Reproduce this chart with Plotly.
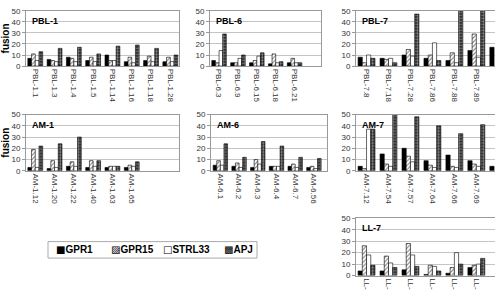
import plotly.graph_objects as go

W, H = 495, 298

# ---------------- data ----------------
series_names = ["GPR1", "GPR15", "STRL33", "APJ"]

pbl1_labels = ["PBL-1.1", "PBL-1.3", "PBL-1.4", "PBL-1.5", "PBL-1.14", "PBL-1.16", "PBL-1.18", "PBL-1.28"]
pbl1_gpr1   = [7, 6, 8, 5, 10, 4, 5, 4]
pbl1_gpr15  = [11, 5, 7, 8, 5, 8, 9, 8]
pbl1_strl33 = [5, 4, 4, 4, 5, 3, 4, 4]
pbl1_apj    = [13, 16, 17, 11, 18, 19, 16, 10]

pbl6_labels = ["PBL-6.3", "PBL-6.9", "PBL-6.15", "PBL-6.18", "PBL-6.21"]
pbl6_gpr1   = [5, 3, 3, 2, 3]
pbl6_gpr15  = [3, 3, 5, 11, 7]
pbl6_strl33 = [14, 7, 9, 3, 3]
pbl6_apj    = [29, 10, 12, 4, 3]

pbl7_labels = ["PBL-7.8", "PBL-7.18", "PBL-7.28", "PBL-7.86", "PBL-7.88", "PBL-7.89", ""]
pbl7_gpr1   = [8, 7, 10, 7, 5, 14, 17]
pbl7_gpr15  = [3, 6, 15, 10, 12, 29, None]
pbl7_strl33 = [10, 7, 9, 21, 3, 8, None]
pbl7_apj    = [7, 3, 47, 5, 56, 56, None]

am1_labels = ["AM-1.12", "AM-1.20", "AM-1.22", "AM-1.40", "AM-1.63", "AM-1.65"]
am1_gpr1   = [3, 2, 4, 3, 3, 3]
am1_gpr15  = [19, 9, 8, 9, 4, 5]
am1_strl33 = [3, 3, 4, 4, 4, 4]
am1_apj    = [22, 24, 30, 9, 4, 8]

am6_labels = ["AM-6.1", "AM-6.2", "AM-6.3", "AM-6.4", "AM-6.7", "AM-6.56"]
am6_gpr1   = [5, 4, 3, 4, 4, 3]
am6_gpr15  = [9, 7, 10, 4, 6, 4]
am6_strl33 = [5, 3, 6, 4, 3, 2]
am6_apj    = [24, 12, 26, 22, 12, 11]

am7_labels = ["AM-7.12", "AM-7.54", "AM-7.57", "AM-7.64", "AM-7.66", "AM-7.69", ""]
am7_gpr1   = [4, 15, 20, 9, 14, 9, 4]
am7_gpr15  = [2, 6, 13, 5, 4, 6, None]
am7_strl33 = [37, 4, 8, 3, 3, 4, None]
am7_apj    = [37, 51, 48, 40, 33, 41, None]

ll7_labels = ["LL-", "LL-", "LL-", "LL-", "LL-", "LL-"]
ll7_gpr1   = [4, 4, 5, 1, 2, 7]
ll7_gpr15  = [26, 17, 28, 9, 7, 9]
ll7_strl33 = [18, 11, 18, 8, 20, 10]
ll7_apj    = [9, 7, 8, 4, 10, 15]

y_ticks = [0, 10, 20, 30, 40, 50]

# ---------------- layout geometry (pixels) ----------------
def px_x(a, b):
    return [a / W, b / W]

def px_y(top, bottom):
    return [1 - bottom / H, 1 - top / H]

panels = [
    ("PBL-1", pbl1_labels, [pbl1_gpr1, pbl1_gpr15, pbl1_strl33, pbl1_apj], (26, 179), (7, 64), [-0.48, 7.45], True, False),
    ("PBL-6", pbl6_labels, [pbl6_gpr1, pbl6_gpr15, pbl6_strl33, pbl6_apj], (210, 321), (7, 64), [-0.48, 5.4], False, False),
    ("PBL-7", pbl7_labels, [pbl7_gpr1, pbl7_gpr15, pbl7_strl33, pbl7_apj], (356, 495), (7, 64), [-0.48, 5.85], False, True),
    ("AM-1", am1_labels, [am1_gpr1, am1_gpr15, am1_strl33, am1_apj], (26, 179), (114, 172), [-0.48, 7.45], True, False),
    ("AM-6", am6_labels, [am6_gpr1, am6_gpr15, am6_strl33, am6_apj], (211, 327), (114, 172), [-0.5, 5.7], False, False),
    ("AM-7", am7_labels, [am7_gpr1, am7_gpr15, am7_strl33, am7_apj], (356, 495), (114, 172), [-0.48, 5.85], False, True),
    ("LL-7", ll7_labels, [ll7_gpr1, ll7_gpr15, ll7_strl33, ll7_apj], (356, 495), (221, 280), [-0.48, 5.85], False, True),
]

styles = [
    dict(color="black", line=dict(color="black", width=0.6)),
    dict(color="white", line=dict(color="black", width=0.6),
         pattern=dict(shape="/", fgcolor="black", bgcolor="white", size=3, solidity=0.35)),
    dict(color="white", line=dict(color="black", width=0.6)),
    dict(color="black", line=dict(color="black", width=0.6),
         pattern=dict(shape=".", fgcolor="white", bgcolor="#111111", size=3, solidity=0.55)),
]

FONT = "Liberation Sans, Arial, sans-serif"
fig = go.Figure()
layout = dict(
    width=W, height=H, margin=dict(l=0, r=0, t=0, b=0),
    paper_bgcolor="white", plot_bgcolor="white",
    showlegend=False, barmode="group", bargap=0.23, bargroupgap=0,
    font=dict(family=FONT, size=8, color="#333333"),
)
annotations = []
shapes = []

for i, (title, labels, series, xd, yd, xr, leftcol, rightcol) in enumerate(panels):
    n = "" if i == 0 else str(i + 1)
    xa, ya = "x" + n, "y" + n
    pos = list(range(len(labels)))
    for s, (name, vals) in enumerate(zip(series_names, series)):
        fig.add_trace(go.Bar(
            x=pos, y=vals, name=name, xaxis=xa, yaxis=ya,
            marker=styles[s], offsetgroup=str(s), hoverinfo="skip",
        ))
    layout["xaxis" + n] = dict(
        domain=px_x(*xd), anchor=ya, range=xr,
        tickmode="array", tickvals=[p for p, l in zip(pos, labels) if l],
        ticktext=[l for l in labels if l], tickangle=90,
        tickfont=dict(size=8, color="#333333"),
        showline=True, linecolor="#999999", linewidth=1, mirror=True,
        showgrid=False, zeroline=False, ticks="", fixedrange=True,
    )
    layout["yaxis" + n] = dict(
        domain=px_y(*yd), anchor=xa, range=[0, 50],
        tickmode="array", tickvals=y_ticks,
        tickfont=dict(size=8, color="#333333"),
        ticks="outside", ticklen=3, tickcolor="#999999",
        showline=True, linecolor="#999999", linewidth=1, mirror=not rightcol,
        showgrid=True, gridcolor="#c4c4c4", gridwidth=1, zeroline=False,
        fixedrange=True,
    )
    if leftcol:
        layout["yaxis" + n]["title"] = dict(
            text="<b>fusion</b>", standoff=3,
            font=dict(size=10, color="black", family=FONT))
    annotations.append(dict(
        text="<b>%s</b>" % title, xref=xa + " domain", yref=ya + " domain",
        x=0, y=1, xanchor="left", yanchor="top", xshift=4, yshift=-3,
        showarrow=False, font=dict(size=9, color="black", family=FONT),
    ))

# legend (real text, glyph swatches)
legend_glyphs = ["\u25A0", "\u25A8", "\u25A1", "\u25A9"]
legend_x_px = [54, 109, 161, 222]
leg_yc = 1 - 253.5 / H
for g, name, lx in zip(legend_glyphs, series_names, legend_x_px):
    annotations.append(dict(
        text="<span style='font-family:DejaVu Sans'>%s</span><b>%s</b>" % (g, name),
        xref="paper", yref="paper", x=lx / W, y=leg_yc,
        xanchor="left", yanchor="middle", showarrow=False,
        font=dict(size=10, color="black", family=FONT),
    ))
shapes.append(dict(type="rect", xref="paper", yref="paper",
                   x0=48 / W, x1=257 / W, y0=1 - 262 / H, y1=1 - 245 / H,
                   line=dict(color="#aaaaaa", width=1), fillcolor="rgba(0,0,0,0)"))

layout["annotations"] = annotations
layout["shapes"] = shapes
fig.update_layout(**layout)
fig.write_html("out.html", config={"displayModeBar": False})
